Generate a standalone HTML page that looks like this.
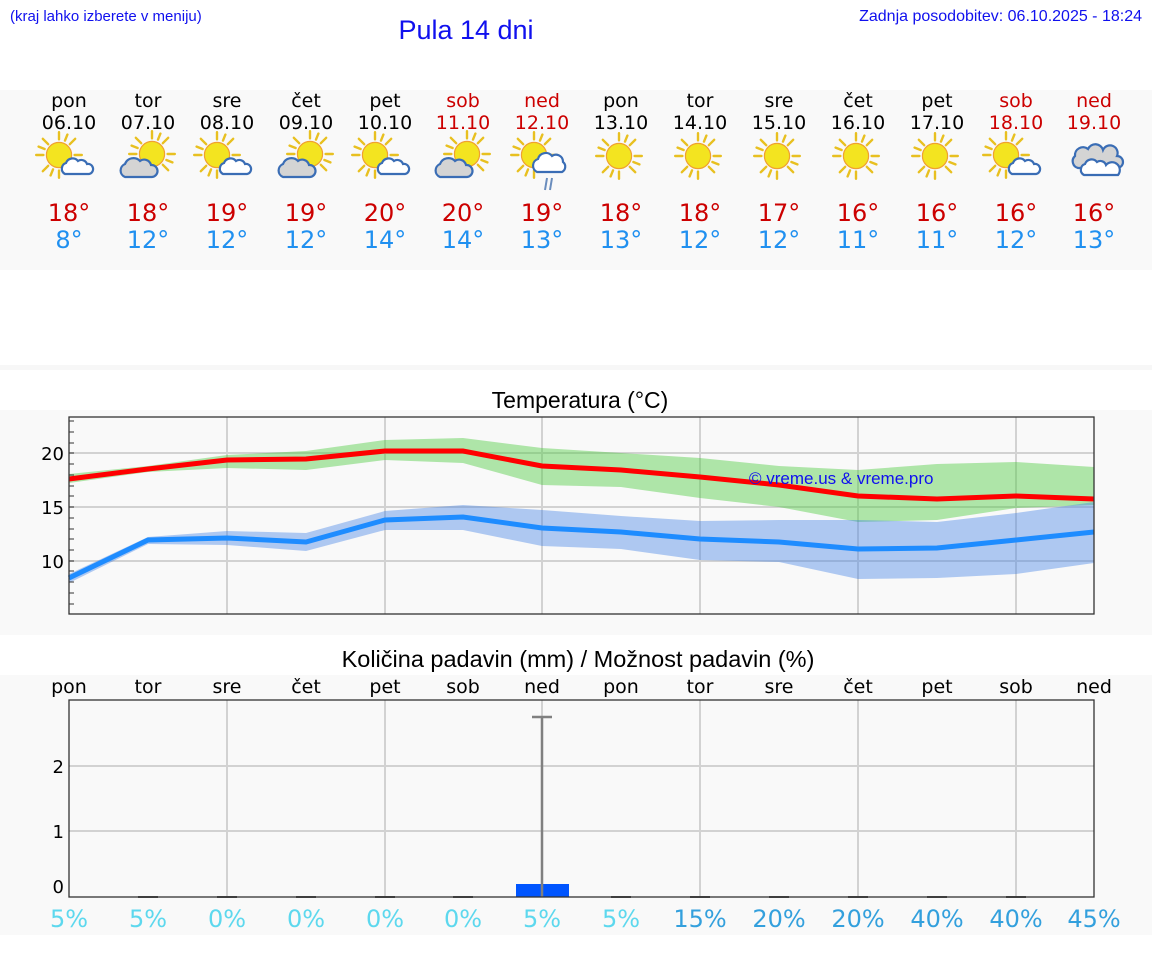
<!DOCTYPE html>
<html><head><meta charset="utf-8"><style>
html,body{margin:0;padding:0;background:#fff;width:1152px;height:975px;overflow:hidden}
svg{display:block}
</style></head><body>
<svg width="1152" height="975" viewBox="0 0 1152 975" xmlns="http://www.w3.org/2000/svg" font-family="'DejaVu Sans','Liberation Sans',sans-serif">
<defs>
<g id="sun"><g transform="scale(1.2)"><g stroke="#e8c020" stroke-width="2" stroke-linecap="round">
<line x1="0" y1="-13" x2="0" y2="-19"/><line x1="0" y1="13" x2="0" y2="19"/><line x1="-13" y1="0" x2="-19" y2="0"/><line x1="13" y1="0" x2="19" y2="0"/>
<line x1="9" y1="-9" x2="13.5" y2="-13.5"/><line x1="-9" y1="-9" x2="-13.5" y2="-13.5"/><line x1="9" y1="9" x2="13.5" y2="13.5"/><line x1="-9" y1="9" x2="-13.5" y2="13.5"/>
<line x1="5" y1="-12" x2="7" y2="-17"/><line x1="-5" y1="12" x2="-7" y2="17"/><line x1="12" y1="5" x2="17" y2="7"/><line x1="-12" y1="-5" x2="-17" y2="-7"/></g>
<circle r="10.5" fill="#f3e420" stroke="#f0a030" stroke-width="1"/></g></g>
<g id="cw"><path d="M-12,8 a6,6 0 0 1 1,-11 a7,7 0 0 1 12,-2 a6,6 0 0 1 9,3 a5,5 0 0 1 2,10 z" fill="#fff" stroke="#3a6db5" stroke-width="2.2"/></g>
<g id="cg"><path d="M-14,10 a7,7 0 0 1 0,-13 a9,9 0 0 1 15,-3 a7,7 0 0 1 11,4 a6,6 0 0 1 1,12 z" fill="#d4d4d4" stroke="#3a6db5" stroke-width="2.2"/></g>
<g id="i0"><use href="#sun" x="-6" y="-3"/><use href="#cw" x="12" y="8"/></g>
<g id="i1"><use href="#sun" x="6" y="-4"/><use href="#cg" x="-7" y="9"/></g>
<g id="is"><use href="#sun" x="0" y="0"/></g>
</defs>
<text x="10" y="21" font-family="'Liberation Sans',sans-serif" font-size="15" fill="#1010ee">(kraj lahko izberete v meniju)</text>
<text x="1142" y="21" text-anchor="end" font-family="'Liberation Sans',sans-serif" font-size="16" fill="#1010ee">Zadnja posodobitev: 06.10.2025 - 18:24</text>
<text x="466" y="39" text-anchor="middle" font-family="'Liberation Sans',sans-serif" font-size="27" fill="#1010ee">Pula 14 dni</text>
<rect x="0" y="90" width="1152" height="180" fill="#f9f9f9"/>
<rect x="0" y="365" width="1152" height="5" fill="#f7f7f7"/>
<g font-size="19" text-anchor="middle" fill="#000">
<text x="69" y="107">pon</text><text x="148" y="107">tor</text><text x="227" y="107">sre</text><text x="306" y="107">čet</text><text x="385" y="107">pet</text><text x="463" y="107" fill="#cc0000">sob</text><text x="542" y="107" fill="#cc0000">ned</text><text x="621" y="107">pon</text><text x="700" y="107">tor</text><text x="779" y="107">sre</text><text x="858" y="107">čet</text><text x="937" y="107">pet</text><text x="1016" y="107" fill="#cc0000">sob</text><text x="1094" y="107" fill="#cc0000">ned</text>
<text x="69" y="129">06.10</text><text x="148" y="129">07.10</text><text x="227" y="129">08.10</text><text x="306" y="129">09.10</text><text x="385" y="129">10.10</text><text x="463" y="129" fill="#cc0000">11.10</text><text x="542" y="129" fill="#cc0000">12.10</text><text x="621" y="129">13.10</text><text x="700" y="129">14.10</text><text x="779" y="129">15.10</text><text x="858" y="129">16.10</text><text x="937" y="129">17.10</text><text x="1016" y="129" fill="#cc0000">18.10</text><text x="1094" y="129" fill="#cc0000">19.10</text>
</g>
<use href="#i0" x="65" y="158"/><use href="#i1" x="146" y="158"/><use href="#i0" x="223" y="158"/><use href="#i1" x="304" y="158"/><use href="#i0" x="381" y="158"/><use href="#i1" x="461" y="158"/>
<g transform="translate(542 158)"><use href="#sun" x="-8" y="-3"/><path d="M-5,14 a7,7 0 0 1 1,-13 a8,8 0 0 1 14,-3 a7,7 0 0 1 11,6 a6,6 0 0 1 -1,10 z" fill="#fff" stroke="#3a6db5" stroke-width="2.2"/><path d="M5,20 l-2,12 M10,20 l-2,12" stroke="#6a8dbd" stroke-width="2"/></g>
<use href="#is" x="619" y="156"/><use href="#is" x="698" y="156"/><use href="#is" x="777" y="156"/><use href="#is" x="856" y="156"/><use href="#is" x="935" y="156"/>
<use href="#i0" x="1012" y="158"/>
<g transform="translate(1094 160)"><path d="M-16,8 a7,7 0 0 1 -3,-12 a8,8 0 0 1 13,-7 a8,8 0 0 1 15,1 a7,7 0 0 1 14,6 a6,6 0 0 1 0,12 z" fill="#d4d4d4" stroke="#3a6db5" stroke-width="2.2"/><path d="M-10,15 a6,6 0 0 1 1,-11 a7,7 0 0 1 12,-2 a6,6 0 0 1 9,3 a5,5 0 0 1 12,10 z" fill="#fff" stroke="#3a6db5" stroke-width="2.2"/></g>
<g font-size="24" text-anchor="middle" fill="#cc0000">
<text x="69" y="221">18°</text><text x="148" y="221">18°</text><text x="227" y="221">19°</text><text x="306" y="221">19°</text><text x="385" y="221">20°</text><text x="463" y="221">20°</text><text x="542" y="221">19°</text><text x="621" y="221">18°</text><text x="700" y="221">18°</text><text x="779" y="221">17°</text><text x="858" y="221">16°</text><text x="937" y="221">16°</text><text x="1016" y="221">16°</text><text x="1094" y="221">16°</text>
</g>
<g font-size="24" text-anchor="middle" fill="#2090f0">
<text x="69" y="248">8°</text><text x="148" y="248">12°</text><text x="227" y="248">12°</text><text x="306" y="248">12°</text><text x="385" y="248">14°</text><text x="463" y="248">14°</text><text x="542" y="248">13°</text><text x="621" y="248">13°</text><text x="700" y="248">12°</text><text x="779" y="248">12°</text><text x="858" y="248">11°</text><text x="937" y="248">11°</text><text x="1016" y="248">12°</text><text x="1094" y="248">13°</text>
</g>
<!-- temperature chart -->
<rect x="0" y="410" width="1152" height="225" fill="#f9f9f9"/>
<text x="580" y="408" text-anchor="middle" font-size="23" font-family="'Liberation Sans',sans-serif">Temperatura (°C)</text>
<g stroke="#d2d2d2" stroke-width="2">
<line x1="69" y1="453" x2="1094" y2="453"/><line x1="69" y1="507" x2="1094" y2="507"/><line x1="69" y1="561" x2="1094" y2="561"/>
<line x1="227" y1="417" x2="227" y2="614"/><line x1="385" y1="417" x2="385" y2="614"/><line x1="542" y1="417" x2="542" y2="614"/><line x1="700" y1="417" x2="700" y2="614"/><line x1="858" y1="417" x2="858" y2="614"/><line x1="1016" y1="417" x2="1016" y2="614"/>
</g>
<polygon fill="#52cc44" fill-opacity="0.45" points="69,474 148,466 227,455 306,451 385,440 463,438 542,448 621,453 700,458 779,466 858,470 937,464 1016,462 1094,467 1094,505 1016,508 937,520 858,522 779,507 700,498 621,487 542,485 463,463 385,460 306,470 227,468 148,472 69,483"/>
<polygon fill="#3f7fe6" fill-opacity="0.4" points="69,574 148,537 227,531 306,533 385,511 463,505 542,510 621,516 700,521 779,520 858,520 937,522 1016,513 1094,502 1094,563 1016,574 937,578 858,579 779,562 700,560 621,549 542,546 463,530 385,530 306,551 227,545 148,544 69,583"/>
<polyline fill="none" stroke="#ff0000" stroke-width="5" points="69,479 148,469 227,460 306,459 385,451 463,451 542,466 621,470 700,477 779,485 858,496 937,499 1016,496 1094,499"/>
<polyline fill="none" stroke="#1e8cff" stroke-width="5" points="69,578 148,540 227,538 306,542 385,520 463,517 542,528 621,532 700,539 779,542 858,549 937,548 1016,540 1094,532"/>
<text x="749" y="484" font-size="17" fill="#1010ee" font-family="'Liberation Sans',sans-serif">© vreme.us &amp; vreme.pro</text>
<rect x="69" y="417" width="1025" height="197" fill="none" stroke="#333" stroke-width="1.3"/>
<g stroke="#333" stroke-width="1">
<line x1="69" y1="421" x2="74" y2="421"/><line x1="69" y1="432" x2="74" y2="432"/><line x1="69" y1="443" x2="74" y2="443"/><line x1="69" y1="453" x2="74" y2="453"/><line x1="69" y1="464" x2="74" y2="464"/><line x1="69" y1="475" x2="74" y2="475"/><line x1="69" y1="486" x2="74" y2="486"/><line x1="69" y1="496" x2="74" y2="496"/><line x1="69" y1="507" x2="74" y2="507"/><line x1="69" y1="518" x2="74" y2="518"/><line x1="69" y1="529" x2="74" y2="529"/><line x1="69" y1="539" x2="74" y2="539"/><line x1="69" y1="550" x2="74" y2="550"/><line x1="69" y1="561" x2="74" y2="561"/><line x1="69" y1="571" x2="74" y2="571"/><line x1="69" y1="582" x2="74" y2="582"/><line x1="69" y1="593" x2="74" y2="593"/><line x1="69" y1="604" x2="74" y2="604"/>
</g>
<g font-size="18" text-anchor="end"><text x="64" y="460">20</text><text x="64" y="514">15</text><text x="64" y="568">10</text></g>
<!-- precip chart -->
<text x="578" y="667" text-anchor="middle" font-size="23.5" font-family="'Liberation Sans',sans-serif">Količina padavin (mm) / Možnost padavin (%)</text>
<rect x="0" y="675" width="1152" height="260" fill="#f9f9f9"/>
<g font-size="19" text-anchor="middle">
<text x="69" y="693">pon</text><text x="148" y="693">tor</text><text x="227" y="693">sre</text><text x="306" y="693">čet</text><text x="385" y="693">pet</text><text x="463" y="693">sob</text><text x="542" y="693">ned</text><text x="621" y="693">pon</text><text x="700" y="693">tor</text><text x="779" y="693">sre</text><text x="858" y="693">čet</text><text x="937" y="693">pet</text><text x="1016" y="693">sob</text><text x="1094" y="693">ned</text>
</g>
<g stroke="#d2d2d2" stroke-width="2">
<line x1="69" y1="766" x2="1094" y2="766"/><line x1="69" y1="831" x2="1094" y2="831"/>
<line x1="227" y1="700" x2="227" y2="897"/><line x1="385" y1="700" x2="385" y2="897"/><line x1="542" y1="700" x2="542" y2="897"/><line x1="700" y1="700" x2="700" y2="897"/><line x1="858" y1="700" x2="858" y2="897"/><line x1="1016" y1="700" x2="1016" y2="897"/>
</g>
<rect x="516" y="884" width="53" height="13" fill="#0055ff"/>
<g stroke="#808080" stroke-width="2.5"><line x1="542" y1="717" x2="542" y2="897"/><line x1="532" y1="717" x2="552" y2="717"/></g>
<g stroke="#555" stroke-width="2"><line x1="138" y1="897" x2="158" y2="897"/><line x1="217" y1="897" x2="237" y2="897"/><line x1="296" y1="897" x2="316" y2="897"/><line x1="375" y1="897" x2="395" y2="897"/><line x1="453" y1="897" x2="473" y2="897"/><line x1="611" y1="897" x2="631" y2="897"/><line x1="690" y1="897" x2="710" y2="897"/><line x1="769" y1="897" x2="789" y2="897"/><line x1="848" y1="897" x2="868" y2="897"/><line x1="927" y1="897" x2="947" y2="897"/><line x1="1006" y1="897" x2="1026" y2="897"/></g>
<rect x="69" y="700" width="1025" height="197" fill="none" stroke="#333" stroke-width="1.3"/>
<g font-size="18" text-anchor="end"><text x="64" y="773">2</text><text x="64" y="838">1</text><text x="64" y="893">0</text></g>
<g font-size="24" text-anchor="middle">
<text x="69" y="927" fill="#5dd8ee">5%</text><text x="148" y="927" fill="#5dd8ee">5%</text><text x="227" y="927" fill="#5dd8ee">0%</text><text x="306" y="927" fill="#5dd8ee">0%</text><text x="385" y="927" fill="#5dd8ee">0%</text><text x="463" y="927" fill="#5dd8ee">0%</text><text x="542" y="927" fill="#5dd8ee">5%</text><text x="621" y="927" fill="#5dd8ee">5%</text>
<text x="700" y="927" fill="#33a0dd">15%</text><text x="779" y="927" fill="#33a0dd">20%</text><text x="858" y="927" fill="#33a0dd">20%</text><text x="937" y="927" fill="#33a0dd">40%</text><text x="1016" y="927" fill="#33a0dd">40%</text><text x="1094" y="927" fill="#33a0dd">45%</text>
</g>
</svg>
</body></html>
